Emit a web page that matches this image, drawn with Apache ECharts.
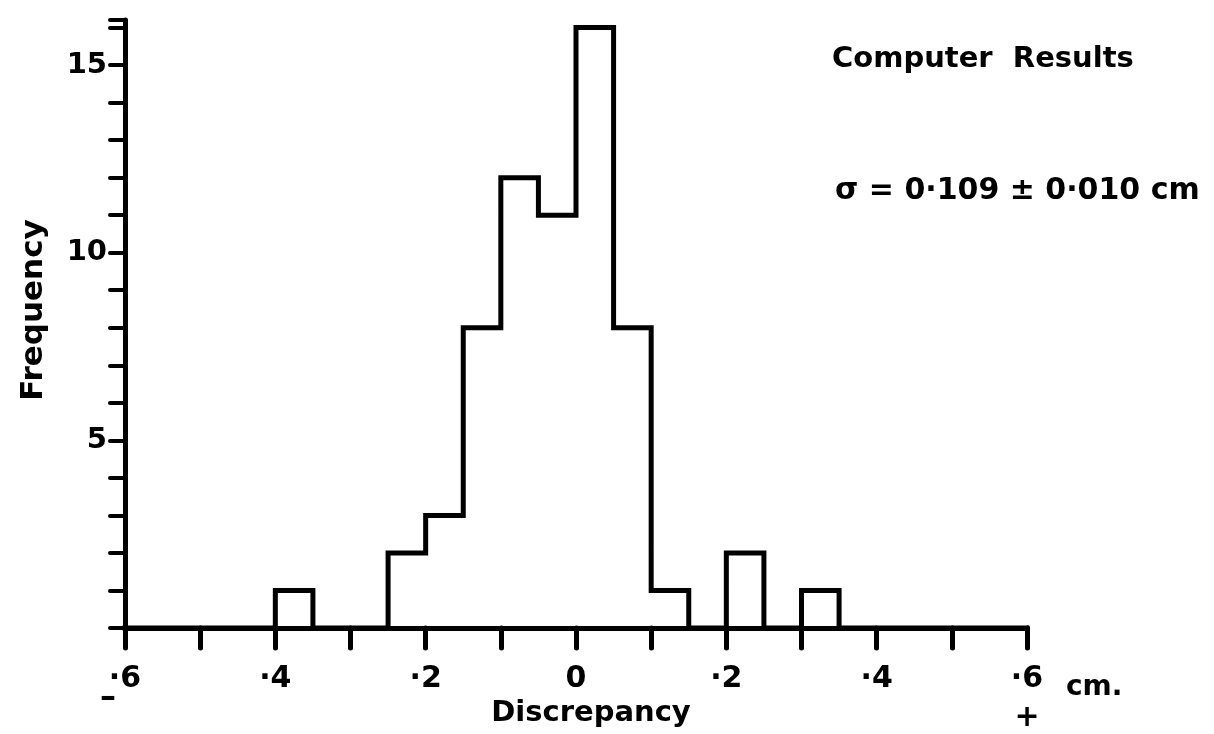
<!DOCTYPE html>
<html>
<head>
<meta charset="utf-8">
<title>Discrepancy histogram</title>
<script src="https://cdn.jsdelivr.net/npm/echarts@6/dist/echarts.min.js"></script>
<style>
  html, body { margin: 0; padding: 0; background: #fff; }
  #chart { width: 1214px; height: 734px; }
</style>
</head>
<body>
<div id="chart"></div>
<script>
// Frequency of discrepancies (cm), bins 0.05 cm wide starting at -0.6
const binStart = -0.6;
const binWidth = 0.05;
const counts = [0, 0, 0, 0, 1, 0, 0, 2, 3, 8, 12, 11, 16, 8, 1, 0, 2, 0, 1, 0, 0, 0, 0, 0];

// tick labels: x in tenths of a cm (sign written under the end labels), y every 5
const xTickLabels = { '-6': '·6', '-4': '·4', '-2': '·2', '0': '0', '2': '·2', '4': '·4', '6': '·6' };
const yTickLabels = [5, 10, 15];

const titleText = 'Computer  Results';
const sigmaText = 'σ = 0·109 ± 0·010 cm';
const xName = 'Discrepancy';
const yName = 'Frequency';

const FONT = 'DejaVu Sans';

// step outline of the histogram: the top of each bin, joined by vertical risers
const outline = [];
counts.forEach((c, i) => {
  const lo = +(binStart + i * binWidth).toFixed(2);
  const hi = +(binStart + (i + 1) * binWidth).toFixed(2);
  outline.push([lo, c], [hi, c]);
});

const ink = '#000';
const chart = echarts.init(document.getElementById('chart'), null, { renderer: 'canvas' });

chart.setOption({
  animation: false,
  backgroundColor: '#fff',
  grid: { left: 125, right: 187, top: 20, bottom: 106, containLabel: false },
  xAxis: {
    type: 'value',
    min: -0.6,
    max: 0.6,
    interval: 0.1,
    axisLine: { show: true, onZero: false, lineStyle: { color: ink, width: 5, cap: 'round' } },
    axisTick: { show: true, inside: false, length: 20, lineStyle: { color: ink, width: 5, cap: 'round' } },
    splitLine: { show: false },
    axisLabel: {
      margin: 36,
      color: ink,
      fontFamily: FONT,
      fontWeight: 'bold',
      fontSize: 30,
      formatter: v => xTickLabels[String(Math.round(v * 10))] || ''
    },
    name: xName,
    nameLocation: 'middle',
    nameGap: 63,
    nameTextStyle: { color: ink, fontFamily: FONT, fontWeight: 'bold', fontSize: 29, padding: [0, 0, 0, 30] }
  },
  yAxis: {
    type: 'value',
    min: 0,
    max: 16.2,
    interval: 1,
    axisLine: { show: true, onZero: false, lineStyle: { color: ink, width: 5, cap: 'round' } },
    axisTick: { show: true, inside: false, length: 15, lineStyle: { color: ink, width: 4, cap: 'round' } },
    splitLine: { show: false },
    axisLabel: {
      margin: 18,
      color: ink,
      fontFamily: FONT,
      fontWeight: 'bold',
      fontSize: 29,
      formatter: v => (yTickLabels.includes(v) ? String(v) : '')
    },
    name: yName,
    nameLocation: 'middle',
    nameRotate: 90,
    nameGap: 76,
    nameTextStyle: { color: ink, fontFamily: FONT, fontWeight: 'bold', fontSize: 31, padding: [0, 0, 0, 28] }
  },
  series: [{
    type: 'line',
    data: outline,
    symbol: 'none',
    clip: false,
    lineStyle: { color: ink, width: 5, join: 'miter', cap: 'square' },
    z: 3
  }],
  graphic: [
    { type: 'text', left: 832, top: 45, style: { text: titleText, font: 'bold 29px "' + FONT + '"', fill: ink } },
    { type: 'text', left: 835, top: 176, style: { text: sigmaText, font: 'bold 30px "' + FONT + '"', fill: ink } },
    // sign marks written under the end labels, and the unit
    { type: 'text', x: 108, y: 699, style: { text: '–', font: 'bold 32px "' + FONT + '"', fill: ink, align: 'center', verticalAlign: 'middle' } },
    { type: 'text', x: 1027, y: 718, style: { text: '+', font: 'bold 30px "' + FONT + '"', fill: ink, align: 'center', verticalAlign: 'middle' } },
    { type: 'text', x: 1066, y: 688, style: { text: 'cm.', font: 'bold 28px "' + FONT + '"', fill: ink, align: 'left', verticalAlign: 'middle' } }
  ]
});
</script>
</body>
</html>
